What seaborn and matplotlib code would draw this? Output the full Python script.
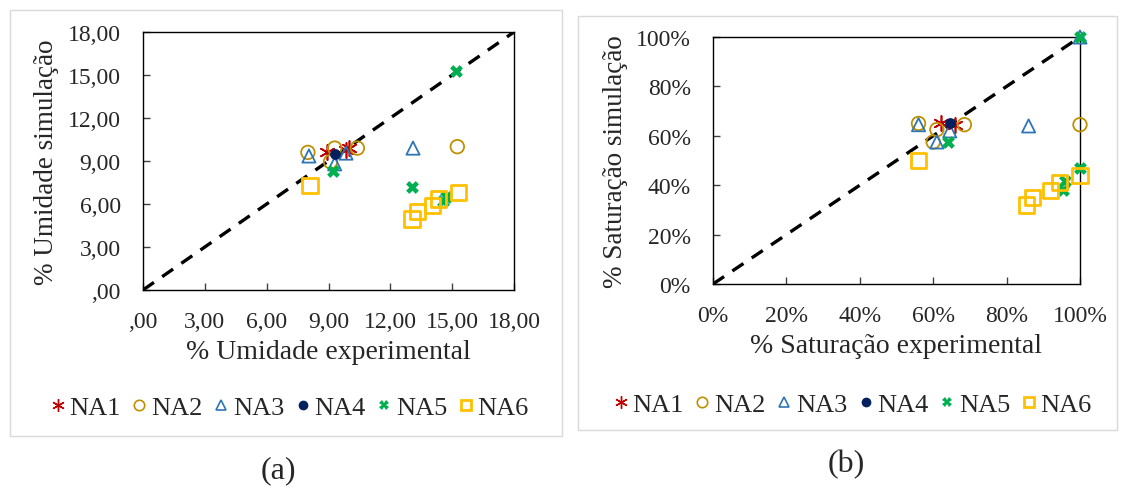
import matplotlib
matplotlib.use("Agg")
import matplotlib.pyplot as plt
from matplotlib.lines import Line2D
from matplotlib.patches import Rectangle
import seaborn as sns
import pandas as pd

# ---- data: (experimental, simulated) for each sample group ----
series = ["NA1", "NA2", "NA3", "NA4", "NA5", "NA6"]

# (a) moisture content, %
umid_na1_x = [8.95, 9.85, 10.0]
umid_na1_y = [9.6, 9.8, 9.9]
umid_na2_x = [8.0, 9.3, 10.4, 9.1, 15.25]
umid_na2_y = [9.6, 9.9, 9.9, 8.95, 10.0]
umid_na3_x = [8.05, 9.85, 9.3, 13.1]
umid_na3_y = [9.35, 9.55, 8.8, 9.9]
umid_na4_x = [9.3]
umid_na4_y = [9.5]
umid_na5_x = [9.2, 13.05, 14.55, 14.7, 15.2]
umid_na5_y = [8.3, 7.2, 6.2, 6.5, 15.25]
umid_na6_x = [8.1, 13.05, 13.3, 14.05, 14.35, 15.3]
umid_na6_y = [7.3, 4.95, 5.45, 5.9, 6.35, 6.8]

# (b) degree of saturation, %
sat_na1_x = [62.0, 66.0]
sat_na1_y = [65.0, 64.5]
sat_na2_x = [56.0, 61.0, 60.0, 68.5, 100.0]
sat_na2_y = [65.0, 62.5, 57.5, 64.5, 64.5]
sat_na3_x = [56.0, 61.0, 64.5, 86.0, 100.0]
sat_na3_y = [64.5, 57.5, 62.0, 64.0, 100.0]
sat_na4_x = [64.5]
sat_na4_y = [65.0]
sat_na5_x = [64.0, 95.5, 96.0, 100.0, 100.0]
sat_na5_y = [57.5, 38.0, 41.5, 47.0, 100.0]
sat_na6_x = [56.0, 85.5, 87.0, 92.0, 94.5, 100.0]
sat_na6_y = [50.0, 32.0, 35.0, 38.0, 41.0, 44.0]

umid_ticks = [0, 3, 6, 9, 12, 15, 18]
umid_tick_labels = [",00", "3,00", "6,00", "9,00", "12,00", "15,00", "18,00"]
sat_ticks = [0, 20, 40, 60, 80, 100]
sat_tick_labels = ["0%", "20%", "40%", "60%", "80%", "100%"]

umid_x = [umid_na1_x, umid_na2_x, umid_na3_x, umid_na4_x, umid_na5_x, umid_na6_x]
umid_y = [umid_na1_y, umid_na2_y, umid_na3_y, umid_na4_y, umid_na5_y, umid_na6_y]
sat_x = [sat_na1_x, sat_na2_x, sat_na3_x, sat_na4_x, sat_na5_x, sat_na6_x]
sat_y = [sat_na1_y, sat_na2_y, sat_na3_y, sat_na4_y, sat_na5_y, sat_na6_y]

# ---- styles ----
sns.set_style("white")
plt.rcParams["font.family"] = ["Liberation Serif", "DejaVu Serif"]

styles = {
    "NA1": dict(marker=(6, 2, 0), color="#C00000", open=False, s=120, lw=1.2),
    "NA2": dict(marker="o", color="#BF9000", open=True, s=95, lw=1.3),
    "NA3": dict(marker="^", color="#2E75B6", open=True, s=90, lw=1.3),
    "NA4": dict(marker="o", color="#002060", open=False, s=60, lw=0),
    "NA5": dict(marker="X", color="#00B050", open=False, s=85, lw=0),
    "NA6": dict(marker="s", color="#FFC000", open=True, s=120, lw=2.0),
}


def draw_series(ax, name, xs, ys):
    st = styles[name]
    df = pd.DataFrame({"exp": xs, "sim": ys})
    if st["open"]:
        sns.scatterplot(data=df, x="exp", y="sim", ax=ax, marker=st["marker"],
                        s=st["s"], color=st["color"], facecolor="none",
                        edgecolor=st["color"], linewidth=st["lw"], zorder=3,
                        clip_on=False)
    elif name == "NA1":
        sns.scatterplot(data=df, x="exp", y="sim", ax=ax, marker=st["marker"],
                        s=st["s"], color=st["color"], linewidth=st["lw"],
                        zorder=3, clip_on=False)
    else:
        sns.scatterplot(data=df, x="exp", y="sim", ax=ax, marker=st["marker"],
                        s=st["s"], color=st["color"], edgecolor=st["color"],
                        linewidth=st["lw"], zorder=3, clip_on=False)


def style_axes(ax, lim, ticks, labels, xlabel, ylabel):
    ax.plot(lim, lim, color="black", lw=2.4, linestyle=(0, (4, 3)), zorder=2)
    ax.set_xlim(lim)
    ax.set_ylim(lim)
    ax.set_xticks(ticks)
    ax.set_yticks(ticks)
    ax.set_xticklabels(labels)
    ax.set_yticklabels(labels)
    for sp in ax.spines.values():
        sp.set_visible(True)
        sp.set_color("black")
        sp.set_linewidth(1.0)
    ax.tick_params(axis="both", which="major", direction="in", length=5,
                   width=1, color="#404040", labelsize=17, bottom=True,
                   left=True, top=False, right=False)
    ax.tick_params(axis="x", pad=15)
    ax.tick_params(axis="y", pad=16)
    ax.set_xlabel(xlabel, fontsize=20, labelpad=5)
    ax.set_ylabel(ylabel, fontsize=19.5, labelpad=6)


fig = plt.figure(figsize=(11.21, 4.89), dpi=100)

# light panel frames
fig.patches.append(Rectangle((10 / 1121, 1 - 437 / 489), 552 / 1121, 426 / 489,
                             transform=fig.transFigure, fill=False,
                             edgecolor="#D9D9D9", lw=1.0))
fig.patches.append(Rectangle((578 / 1121, 1 - 431 / 489), 539 / 1121, 414 / 489,
                             transform=fig.transFigure, fill=False,
                             edgecolor="#D9D9D9", lw=1.0))

ax_a = fig.add_axes([143 / 1121, 1 - 291 / 489, 371 / 1121, 258 / 489])
ax_b = fig.add_axes([713 / 1121, 1 - 285 / 489, 367 / 1121, 247 / 489])

for name, xs, ys in zip(series, umid_x, umid_y):
    draw_series(ax_a, name, xs, ys)
for name, xs, ys in zip(series, sat_x, sat_y):
    draw_series(ax_b, name, xs, ys)

style_axes(ax_a, [0, 18], umid_ticks, umid_tick_labels,
           "% Umidade experimental", "% Umidade simulação")
style_axes(ax_b, [0, 100], sat_ticks, sat_tick_labels,
           "% Saturação experimental", "% Saturação simulação")


def legend_handles():
    handles = []
    for name in series:
        st = styles[name]
        if st["open"]:
            h = Line2D([], [], linestyle="none", marker=st["marker"],
                       markersize=7.5, markerfacecolor="none",
                       markeredgecolor=st["color"],
                       markeredgewidth=1.2 if name != "NA6" else 2.0)
        elif name == "NA1":
            h = Line2D([], [], linestyle="none", marker=st["marker"],
                       markersize=9, color=st["color"], markeredgewidth=1.0)
        else:
            h = Line2D([], [], linestyle="none", marker=st["marker"],
                       markersize=7, color=st["color"],
                       markeredgecolor=st["color"], markeredgewidth=0)
        handles.append(h)
    return handles


for cx, cy in [(288 / 1121, 1 - 408 / 489), (851 / 1121, 1 - 405 / 489)]:
    fig.legend(legend_handles(), series, loc="center", bbox_to_anchor=(cx, cy),
               ncol=6, frameon=False, fontsize=19, handletextpad=0.05,
               columnspacing=0.3, handlelength=0.8, borderpad=0)

fig.text(278 / 1121, 1 - 471 / 489, "(a)", ha="center", va="center", fontsize=23)
fig.text(846 / 1121, 1 - 465 / 489, "(b)", ha="center", va="center", fontsize=23)

fig.savefig("out.png", dpi=100, facecolor="white")
